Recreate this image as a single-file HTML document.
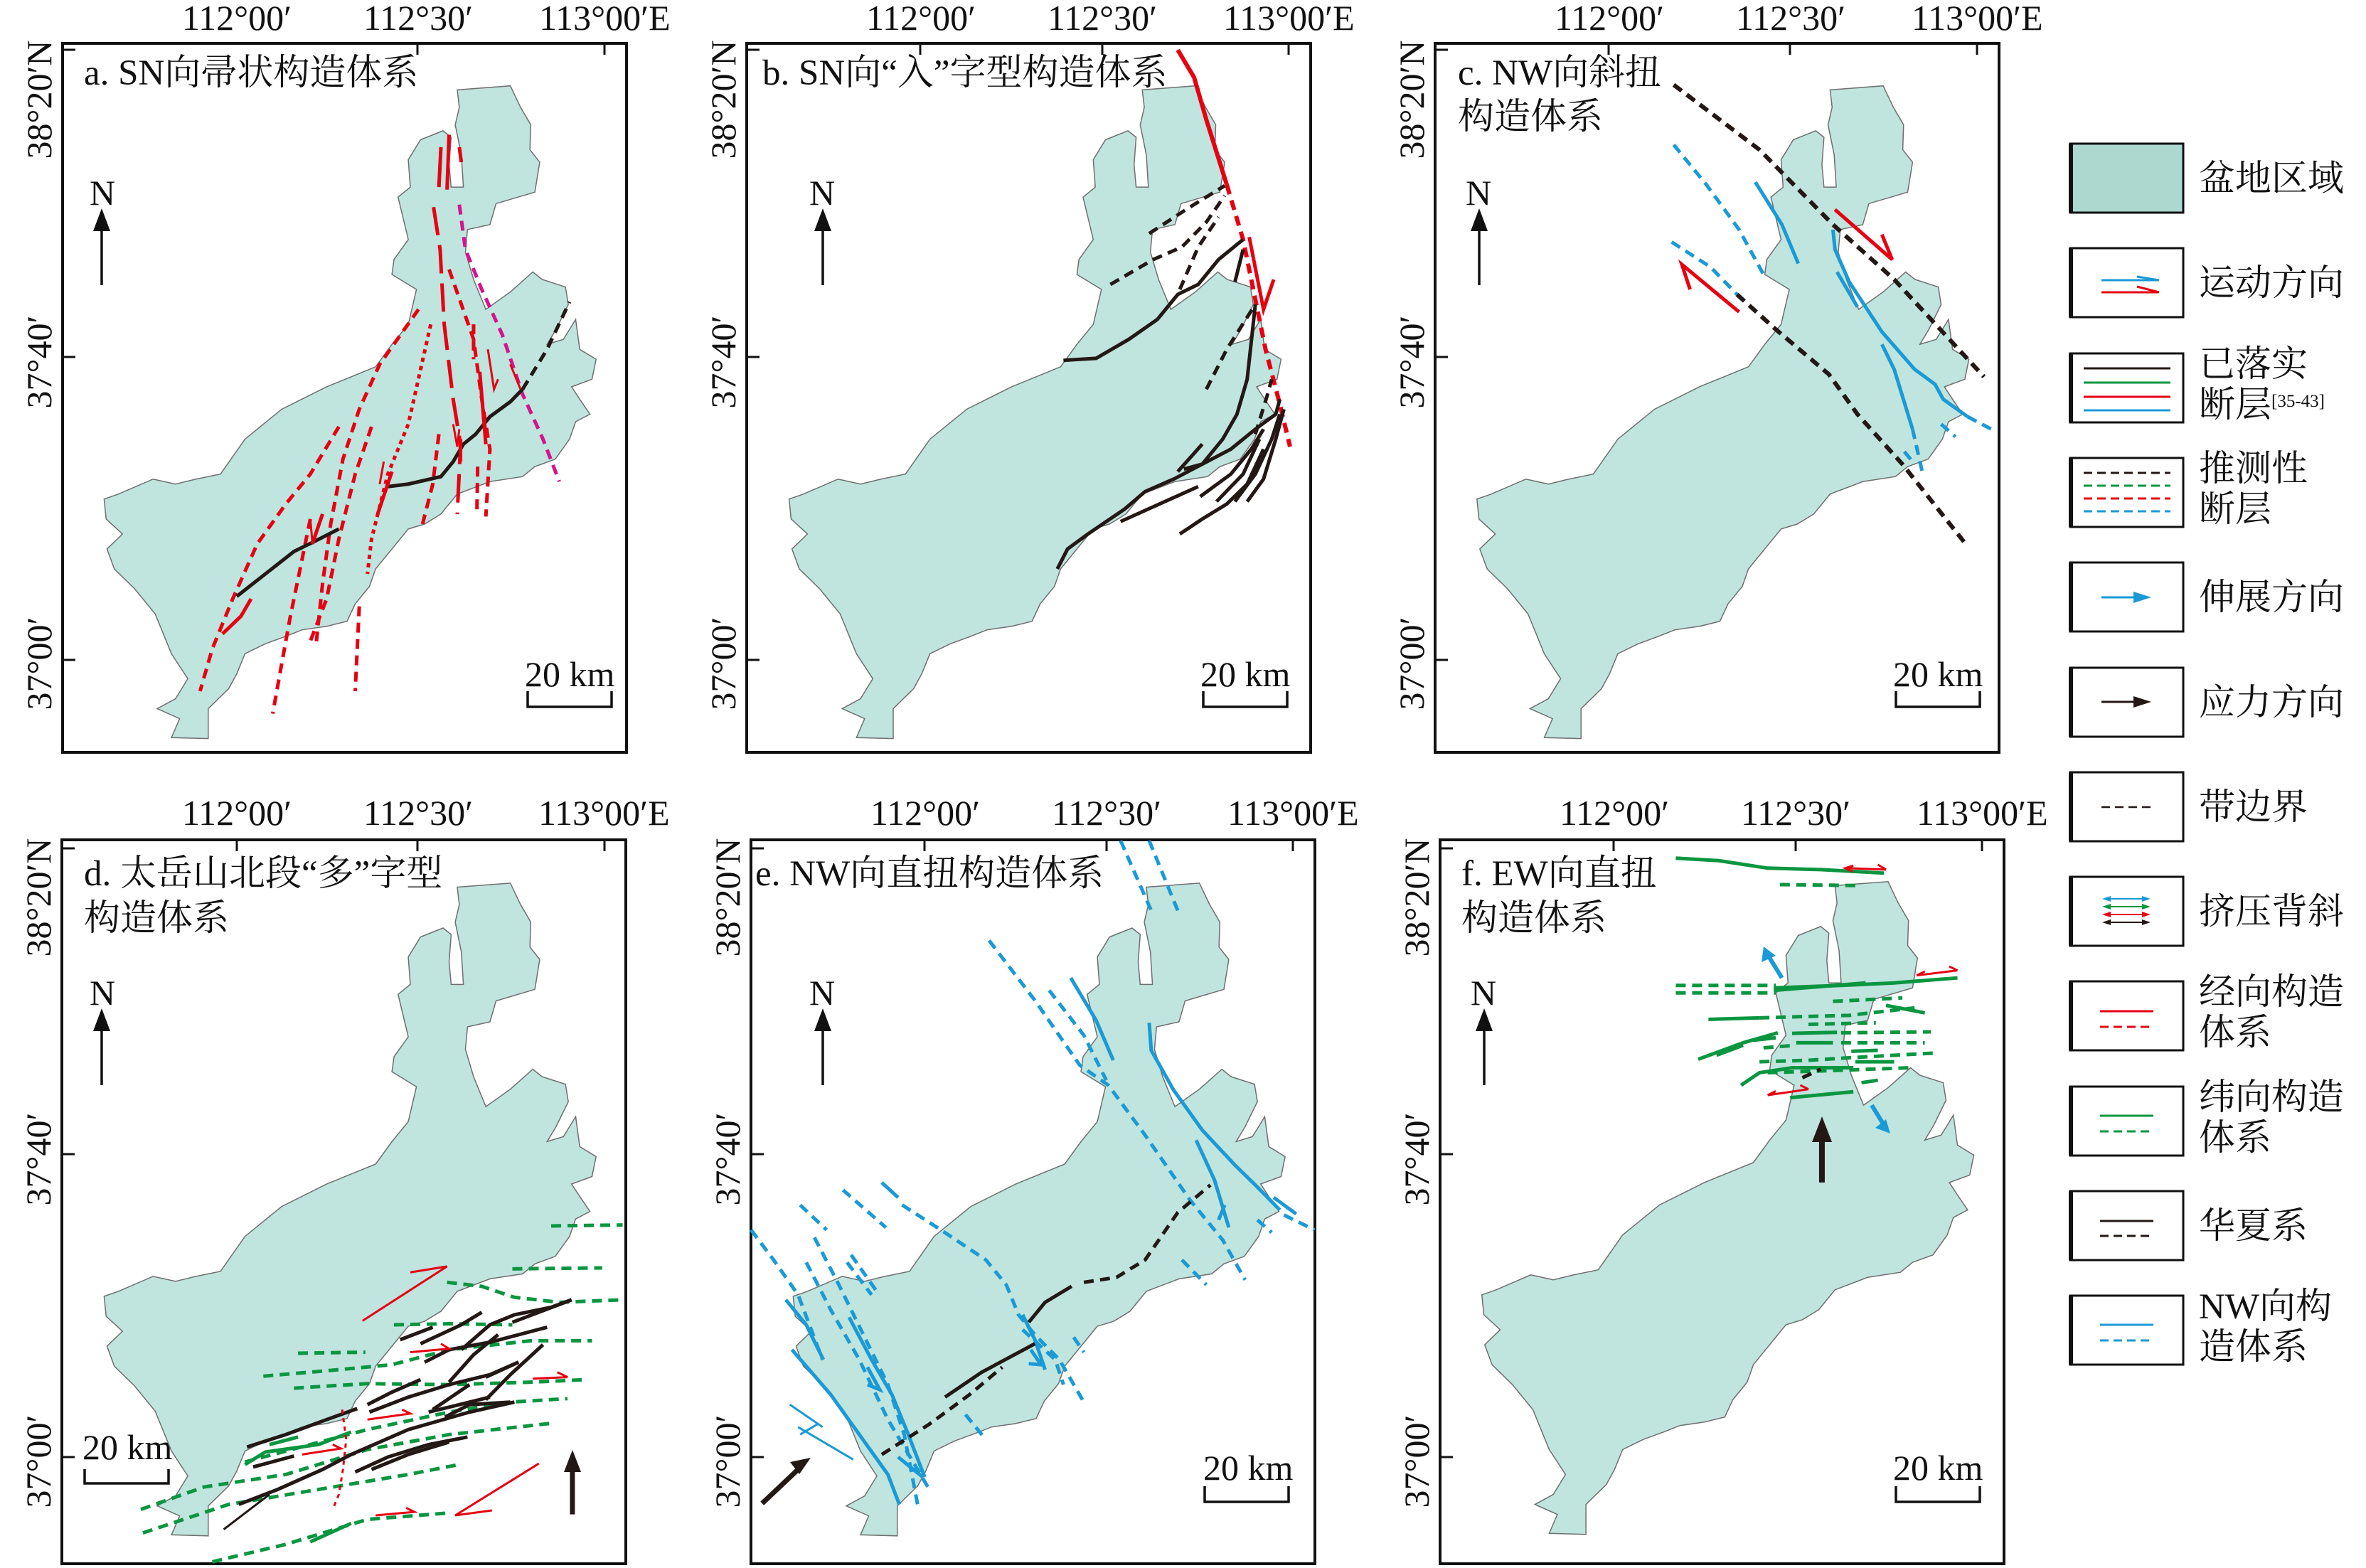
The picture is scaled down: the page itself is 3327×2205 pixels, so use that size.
<!DOCTYPE html>
<html><head><meta charset="utf-8"><style>
html,body{margin:0;padding:0;background:#fff}
svg{display:block}
text{font-family:"Liberation Serif","Noto Serif CJK SC","Noto Sans CJK SC",serif;fill:#111}
.f path,.f polyline{vector-effect:non-scaling-stroke;fill:none;stroke-linecap:butt}
.k{stroke:#231815;stroke-width:5}
.r{stroke:#e60012;stroke-width:5}
.g{stroke:#0a9640;stroke-width:5}
.b{stroke:#1a9ad6;stroke-width:5}
.m{stroke:#d4148c;stroke-width:5}
.d{stroke-dasharray:14 9}
.dt{stroke-dasharray:6 6}
.ld{stroke-dasharray:40 14}
.th{stroke-width:3}
</style></head><body>
<svg width="3327" height="2205" viewBox="0 0 3327 2205" xmlns="http://www.w3.org/2000/svg">
<defs>
<path id="basin" d="M1120,180 L1250,172 L1275,215 L1300,250 L1298,300 L1322,325 L1310,385 L1215,408 L1200,450 L1145,460 L1140,505 L1160,560 L1190,620 L1250,585 L1305,545 L1328,560 L1385,575 L1392,610 L1362,660 L1340,690 L1380,680 L1410,640 L1420,700 L1460,720 L1450,760 L1400,775 L1420,800 L1445,830 L1410,845 L1395,880 L1360,920 L1310,935 L1280,955 L1200,965 L1120,990 L1080,1030 L1040,1050 L1000,1060 L970,1090 L940,1120 L920,1140 L905,1175 L870,1210 L850,1245 L800,1255 L740,1262 L700,1275 L650,1290 L600,1310 L580,1350 L560,1380 L510,1420 L510,1480 L420,1478 L440,1440 L385,1420 L430,1400 L460,1360 L420,1310 L380,1230 L330,1180 L280,1140 L262,1100 L300,1070 L260,1040 L255,1000 L290,990 L375,960 L430,970 L480,960 L540,950 L600,880 L690,820 L800,775 L920,735 L960,690 L1000,650 L1020,580 L960,550 L965,520 L1000,480 L975,395 L1005,375 L1000,320 L1030,280 L1085,262 L1105,275 L1100,330 L1105,375 L1135,375 L1130,310 L1115,250 L1125,215 Z" fill="#c0e4de" stroke="#6f6f6f" stroke-width="1.5" vector-effect="non-scaling-stroke"/>
</defs>

<g fill="none" stroke="#111" stroke-width="4">
<rect x="88" y="61" width="793" height="997"/>
<rect x="1050" y="61" width="793" height="997"/>
<rect x="2018" y="61" width="793" height="997"/>
<rect x="87" y="1181" width="793" height="1018"/>
<rect x="1056" y="1181" width="793" height="1018"/>
<rect x="2025" y="1181" width="793" height="1018"/>
</g>
<g stroke="#111" stroke-width="3" fill="none">
<path d="M587,61v16 M850,61v16 M88,70h18 M88,502h18 M88,928h18"/>
<path d="M1294,61v16 M1550,61v16 M1812,61v16 M1050,70h18 M1050,502h18 M1050,928h18"/>
<path d="M2262,61v16 M2517,61v16 M2780,61v16 M2018,70h18 M2018,502h18 M2018,928h18"/>
<path d="M333,1181v16 M587,1181v16 M850,1181v16 M87,1193h18 M87,1623h18 M87,2049h18"/>
<path d="M1300,1181v16 M1556,1181v16 M1818,1181v16 M1056,1193h18 M1056,1623h18 M1056,2049h18"/>
<path d="M2269,1181v16 M2525,1181v16 M2787,1181v16 M2025,1193h18 M2025,1623h18 M2025,2049h18"/>
</g>
<g font-size="50">
<text x="333" y="42" text-anchor="middle">112°00′</text><text x="588" y="42" text-anchor="middle">112°30′</text><text x="758" y="42">113°00′E</text>
<text x="1295" y="42" text-anchor="middle">112°00′</text><text x="1550" y="42" text-anchor="middle">112°30′</text><text x="1720" y="42">113°00′E</text>
<text x="2263" y="42" text-anchor="middle">112°00′</text><text x="2518" y="42" text-anchor="middle">112°30′</text><text x="2688" y="42">113°00′E</text>
<text x="333" y="1160" text-anchor="middle">112°00′</text><text x="588" y="1160" text-anchor="middle">112°30′</text><text x="757" y="1160">113°00′E</text>
<text x="1301" y="1160" text-anchor="middle">112°00′</text><text x="1556" y="1160" text-anchor="middle">112°30′</text><text x="1726" y="1160">113°00′E</text>
<text x="2270" y="1160" text-anchor="middle">112°00′</text><text x="2525" y="1160" text-anchor="middle">112°30′</text><text x="2695" y="1160">113°00′E</text>
</g>
<g font-size="50" text-anchor="middle">
<text transform="translate(72,140) rotate(-90)">38°20′N</text><text transform="translate(72,509) rotate(-90)">37°40′</text><text transform="translate(72,933) rotate(-90)">37°00′</text>
<text transform="translate(1034,140) rotate(-90)">38°20′N</text><text transform="translate(1034,509) rotate(-90)">37°40′</text><text transform="translate(1034,933) rotate(-90)">37°00′</text>
<text transform="translate(2002,140) rotate(-90)">38°20′N</text><text transform="translate(2002,509) rotate(-90)">37°40′</text><text transform="translate(2002,933) rotate(-90)">37°00′</text>
<text transform="translate(71,1262) rotate(-90)">38°20′N</text><text transform="translate(71,1630) rotate(-90)">37°40′</text><text transform="translate(71,2055) rotate(-90)">37°00′</text>
<text transform="translate(1040,1262) rotate(-90)">38°20′N</text><text transform="translate(1040,1630) rotate(-90)">37°40′</text><text transform="translate(1040,2055) rotate(-90)">37°00′</text>
<text transform="translate(2009,1262) rotate(-90)">38°20′N</text><text transform="translate(2009,1630) rotate(-90)">37°40′</text><text transform="translate(2009,2055) rotate(-90)">37°00′</text>
</g>
<g font-size="51">
<text x="118" y="119">a. SN向帚状构造体系</text>
<text x="1072" y="119">b. SN向“入”字型构造体系</text>
<text x="2050" y="119">c. NW向斜扭</text><text x="2050" y="181">构造体系</text>
<text x="118" y="1245">d. 太岳山北段“多”字型</text><text x="118" y="1308">构造体系</text>
<text x="1062" y="1245">e. NW向直扭构造体系</text>
<text x="2055" y="1245">f. EW向直扭</text><text x="2055" y="1308">构造体系</text>
</g>
<g font-size="50">
<text x="126" y="288">N</text><text x="1138" y="288">N</text><text x="2061" y="288">N</text>
<text x="126" y="1413">N</text><text x="1138" y="1413">N</text><text x="2068" y="1413">N</text>
</g>
<g stroke="#111" stroke-width="3.5">
<path d="M143,401V310 M1157,401V310 M2080,401V310 M143,1526V1435 M1157,1526V1435 M2087,1526V1435"/>
</g>
<g fill="#111">
<path d="M143,293l-12,32h24z M1157,293l-12,32h24z M2080,293l-12,32h24z M143,1418l-12,32h24z M1157,1418l-12,32h24z M2087,1418l-12,32h24z"/>
</g>
<g font-size="50">
<text x="738" y="965">20 km</text><text x="1688" y="965">20 km</text><text x="2662" y="965">20 km</text>
<text x="116" y="2052">20 km</text><text x="1692" y="2081">20 km</text><text x="2662" y="2081">20 km</text>
</g>
<g fill="none" stroke="#111" stroke-width="3.5">
<path d="M742,972V994H860V972 M1692,972V994H1810V972 M2666,972V994H2784V972"/>
<path d="M119,2066V2086H237V2066 M1694,2090V2112H1812V2090 M2666,2090V2112H2784V2090"/>
</g>

<!-- Panel a -->
<g class="f" transform="translate(0,0) scale(0.5741,0.7018)">
<use href="#basin"/>
<path class="r ld" d="M1062,415 L1078,500 L1088,650 L1110,800 L1128,890 L1120,1030"/>
<path class="r d" d="M1100,540 L1160,680 L1180,800 L1200,900 L1190,1035"/>
<path class="r dt" d="M1055,650 L1000,850 L950,950 L910,1080 L900,1150"/>
<path class="r d" d="M1025,620 L930,730 L880,820 L840,920 L810,1050 L790,1170 L775,1285"/>
<path class="r d" d="M830,855 L760,950 L700,1010 L630,1090 L570,1200 L520,1300 L490,1385"/>
<path class="r d" d="M910,855 L870,950 L830,1080 L800,1200 L760,1285"/>
<path class="r d" d="M1075,870 L1060,970 L1035,1050"/>
<path class="r d" d="M880,1215 L870,1385"/>
<path class="r d" d="M760,1040 L740,1120 L710,1240 L690,1330 L668,1430"/>
<path class="r d" d="M1170,935 L1168,1030"/>
<path class="r d" d="M1160,650 L1160,720"/>
<path class="m d" d="M1125,410 L1140,500 L1180,580 L1230,670 L1280,790 L1330,880 L1370,965"/>
<path class="k" d="M580,1195 L650,1150 L720,1105 L770,1085 L830,1060"/>
<path class="k" d="M950,975 L1000,970 L1080,955 L1110,925 L1135,890 L1165,870 L1200,835 L1250,805 L1280,780"/>
<path class="k d" d="M1280,780 L1340,700 L1395,605"/>
<path class="r" d="M1080,295 L1075,375 M1100,270 L1095,380 M1125,295 L1130,325"/>
<path class="r" d="M545,1270 L590,1235 L615,1200 M765,1090 L790,1030 M925,1030 L960,945 M1128,880 L1128,925 M1175,745 L1190,890"/>
<path class="r th" d="M1110,850 L1120,895 L1125,860 M760,1040 L765,1085 M940,925 L930,970 M1195,700 L1210,780 L1220,760 M1250,730 L1275,780 M1185,820 L1190,860"/>
</g>

<!-- Panel b -->
<g class="f" transform="translate(950,0) scale(0.5741,0.7018)">
<use href="#basin" transform="translate(23,0)"/>
<path class="r" style="stroke-width:6" d="M1230,100 L1270,155 L1300,240 L1350,370"/>
<path class="r d" style="stroke-width:6" d="M1350,370 L1390,480 L1420,600 L1445,700 L1480,810 L1505,895"/>
<path class="r" d="M1405,475 L1440,620 L1465,560"/>
<path class="k d" d="M1160,468 L1250,420 L1345,372"/>
<path class="k d" d="M1065,570 L1170,520 L1240,495 L1300,445 L1345,392"/>
<path class="k d" d="M1235,580 L1280,495 L1330,435"/>
<path class="k d" d="M1300,780 L1350,700 L1420,610"/>
<path class="k d" d="M1420,870 L1450,790 L1460,760"/>
<path class="k" d="M950,722 L1030,718 L1110,680 L1180,640 L1230,590 L1280,570 L1330,520 L1390,480"/>
<path class="k" d="M1370,565 L1390,500"/>
<path class="k" d="M1230,945 L1290,890"/>
<path class="k" d="M1245,940 L1290,930 L1340,880 L1375,830 L1400,760 L1420,610"/>
<path class="k" d="M935,1140 L960,1100 L1010,1070 L1100,1020 L1150,985 L1220,960 L1290,930 L1360,900 L1420,860 L1470,830 L1480,800"/>
<path class="k" d="M1090,1045 L1280,975"/>
<path class="k" d="M1235,1070 L1290,1040 L1350,1010 L1400,970 L1440,900"/>
<path class="k" d="M1285,995 L1360,950 L1410,900 L1440,860"/>
<path class="k" d="M1325,1005 L1390,950 L1430,880"/>
<path class="k" d="M1370,1005 L1420,950 L1460,880 L1480,830"/>
<path class="k" d="M1400,1005 L1440,960 L1470,880 L1490,820"/>
</g>

<!-- Panel c -->
<g class="f" transform="translate(1900,0) scale(0.5741,0.7018)">
<use href="#basin" transform="translate(53,0)"/>
<path class="k d" style="stroke-width:6" d="M790,170 L1000,300 L1180,450 L1330,560 L1550,755"/>
<path class="k d" style="stroke-width:6" d="M945,590 L1040,660 L1170,750 L1240,830 L1350,930 L1510,1095"/>
<path class="b d" d="M790,290 L870,370 L950,460 L1010,550"/>
<path class="b d" d="M785,485 L880,535 L945,590"/>
<path class="b" d="M990,365 L1055,450 L1095,528"/>
<path class="b" d="M1180,460 L1185,500 L1220,565 L1300,665 L1380,740 L1430,770 L1450,800 L1510,835"/>
<path class="b d" d="M1510,835 L1568,860"/>
<path class="b" d="M1190,545 L1240,615"/>
<path class="b" d="M1300,690 L1330,740 L1375,860"/>
<path class="b d" d="M1375,860 L1400,950 M1355,905 L1380,930 M1445,850 L1480,875"/>
<path class="r" d="M1185,420 L1325,520 L1300,470"/>
<path class="r" d="M950,625 L810,530 L830,580"/>
</g>

<!-- Panel d -->
<g class="f" transform="translate(0,1105) scale(0.5741,0.7018)">
<use href="#basin" transform="translate(0,23)"/>
<g class="g d">
<path d="M1350,882 L1525,880"/><path d="M1255,968 L1475,966"/>
<path d="M1095,995 L1180,1003 L1260,1025 L1370,1035 L1525,1030"/>
<path d="M965,1080 L1100,1078 L1255,1080"/><path d="M730,1137 L895,1135"/>
<path d="M645,1183 L830,1170 L960,1160 L1100,1130 L1300,1112 L1450,1112"/>
<path d="M720,1207 L900,1198 L1100,1200 L1300,1195 L1435,1190"/>
<path d="M600,1355 L760,1320 L900,1290 L1100,1255 L1250,1235 L1390,1228"/>
<path d="M345,1450 L500,1405 L700,1380 L900,1330 L1100,1300 L1345,1278"/>
<path d="M350,1497 L560,1440 L780,1410 L1000,1380 L1125,1360"/>
<path d="M520,1555 L700,1520 L900,1470 L1100,1457"/>
</g>
<path class="g" d="M600,1360 L650,1335 L780,1320 L860,1295 M760,1515 L860,1478 M660,1320 L730,1305"/>
<g class="k">
<path d="M605,1325 L700,1300 L800,1270 L875,1248"/><path d="M620,1365 L720,1343"/>
<path d="M585,1440 L680,1410 L790,1370 L860,1340 L1000,1290 L1150,1255 L1260,1235"/>
<path d="M900,1240 L960,1215 L1030,1190"/><path d="M905,1255 L1000,1225 L1100,1200 L1200,1180 L1270,1155"/>
<path d="M870,1375 L950,1345 L1050,1320 L1145,1305"/><path d="M910,1370 L1000,1340 L1100,1315"/>
<path d="M1040,1155 L1100,1130 L1200,1115 L1340,1085"/><path d="M980,1110 L1060,1085"/>
<path d="M1030,1118 L1130,1080 L1180,1055"/><path d="M1100,1195 L1160,1140 L1220,1100"/>
<path d="M1130,1130 L1200,1080 L1260,1060 L1350,1045 L1400,1030"/><path d="M1255,1075 L1400,1030"/>
<path d="M1190,1230 L1250,1180 L1330,1120"/><path d="M1090,1265 L1150,1240 L1250,1235"/>
<path d="M1060,1250 L1150,1200"/><path d="M1190,1185 L1270,1155"/><path d="M1050,1255 L1200,1225"/>
</g>
<path class="r th" d="M888,1072 L1095,963 L1005,975 M1320,1358 L1115,1462 L1205,1452 M1305,1188 L1390,1185 L1365,1175 M1005,1135 L1100,1128 L1080,1118 M900,1270 L1005,1258 L985,1250 M740,1340 L835,1328 L815,1320 M920,1462 L1015,1455 L995,1447"/>
<path class="r th dt" d="M838,1250 L848,1310 L840,1370 L830,1420 L815,1450"/>
<path class="k th" d="M548,1490 L660,1420"/>
<path class="k" style="stroke-width:7" d="M1402,1460 L1402,1370"/>
</g>
<polygon points="805,2039 793,2070 817,2070" fill="#231815"/>

<!-- Panel e -->
<g class="f" transform="translate(950,1105) scale(0.5741,0.7018)">
<use href="#basin" transform="translate(33,23)"/>
<g class="b d">
<path d="M1090,110 L1165,250"/><path d="M1160,110 L1230,250"/>
<path d="M768,310 L880,430 L990,560 L1060,600 L1150,700 L1260,830 L1340,910 L1395,990"/>
<path d="M915,410 L1000,500 L1055,590"/><path d="M185,890 L240,950 L300,1020 L360,1150"/>
<path d="M305,840 L370,890"/><path d="M410,810 L515,885"/>
<path d="M555,840 L650,890 L760,950 L810,1000 L840,1060 L880,1100 L940,1150 L1000,1235"/>
<path d="M340,905 L400,1000 L460,1100 L520,1200 L560,1300 L595,1450"/>
<path d="M320,955 L380,1050 L450,1150 L520,1270 L600,1380 L625,1415"/>
<path d="M430,940 L490,1010"/><path d="M420,955 L480,1020"/><path d="M1240,950 L1300,1000"/>
<path d="M975,1105 L1000,1135"/><path d="M1425,870 L1460,895"/><path d="M1490,860 L1565,890"/>
<path d="M710,1260 L755,1305"/><path d="M850,1090 L930,1150 L950,1200"/>
</g>
<g class="b">
<path d="M968,385 L1030,470 L1072,550"/>
<path d="M1160,475 L1165,530 L1220,610 L1290,690 L1370,760 L1420,800 L1480,850"/>
<path d="M1275,710 L1320,790 L1355,885"/><path d="M505,795 L545,825"/>
<path d="M270,1030 L320,1080 L362,1150"/>
<path d="M285,1130 L380,1220 L450,1300 L520,1380 L548,1440"/>
<path d="M425,1065 L480,1150 L530,1220 L570,1300 L610,1385"/>
<path d="M545,1345 L605,1385"/><path d="M850,1060 L880,1110 L905,1170"/>
<path d="M470,1165 L500,1210 L470,1200 M870,1130 L895,1160 L865,1158 M1330,870 L1345,840 M1465,825 L1520,858"/>
</g>
<path class="b th" d="M280,1240 L360,1285 M300,1285 L435,1350 M305,1300 L350,1278"/>
<path class="k" d="M660,1225 L750,1175 L880,1118 M865,1075 L905,1035 L970,1003"/>
<path class="k d" d="M505,1340 L620,1280 L720,1220 L800,1165 M1000,995 L1080,985 L1150,950 L1230,855 L1310,800"/>
<path class="k" style="stroke-width:7" d="M212,1438 L300,1370"/>
</g>
<polygon points="1140,2050 1111,2056 1124,2073" fill="#231815"/>

<!-- Panel f -->
<g class="f" transform="translate(1900,1105) scale(0.5741,0.7018)">
<use href="#basin" transform="translate(65,20)"/>
<g class="g">
<path d="M795,145 L900,150 L1020,165 L1150,168 L1305,175"/>
<path d="M1035,410 L1260,395"/><path d="M1035,405 L1200,400 L1330,395 L1485,385"/>
<path d="M1310,440 L1405,455"/><path d="M875,468 L1000,465"/>
<path d="M850,548 L960,515 L1045,495"/><path d="M895,540 L960,520"/><path d="M985,510 L1040,505"/>
<path d="M1080,496 L1190,494"/><path d="M1090,515 L1180,515"/><path d="M1225,532 L1290,530"/>
<path d="M1235,553 L1330,553"/><path d="M955,600 L1000,575 L1080,565 L1230,565"/>
<path d="M1075,625 L1230,613"/><path d="M1250,595 L1290,590"/>
</g>
<g class="g d">
<path d="M1050,198 L1250,200"/><path d="M795,400 L1040,400"/><path d="M795,415 L1040,415"/>
<path d="M1180,432 L1350,425"/><path d="M1000,465 L1220,460 L1380,445"/><path d="M1120,478 L1285,475"/>
<path d="M1200,495 L1420,493"/><path d="M1200,515 L1405,515"/><path d="M1010,525 L1090,520"/>
<path d="M1000,553 L1120,550 L1220,545 L1440,535"/><path d="M1020,575 L1200,570 L1370,565"/>
</g>
<path class="r th" d="M1210,165 L1310,168 M1385,380 L1485,370 M1020,620 L1120,608 M1230,160 L1210,165 L1228,172 M1290,158 L1310,168 M1405,372 L1385,380 M1465,362 L1485,370 M1040,612 L1020,620 M1100,600 L1120,608"/>
<path class="k d" d="M1105,585 L1150,568"/>
<path class="b" style="stroke-width:6" d="M1055,385 L1025,345 M1275,640 L1305,680"/>
<path class="k" style="stroke-width:8" d="M1153,795 L1153,700"/>
</g>
<polygon points="2562,1570 2548,1606 2576,1606" fill="#231815"/>
<polygon points="2480,1331 2477,1353 2497,1344" fill="#1a9ad6"/>
<polygon points="2658,1594 2652,1574 2637,1586" fill="#1a9ad6"/>

<!-- Legend -->
<g fill="none" stroke="#111" stroke-width="3">
<rect x="2911" y="202" width="159" height="97" fill="#acd8d0"/>
<rect x="2911" y="349" width="159" height="97"/>
<rect x="2911" y="497" width="159" height="97"/>
<rect x="2911" y="644" width="159" height="97"/>
<rect x="2911" y="791" width="159" height="97"/>
<rect x="2911" y="939" width="159" height="97"/>
<rect x="2911" y="1086" width="159" height="97"/>
<rect x="2911" y="1233" width="159" height="97"/>
<rect x="2911" y="1380" width="159" height="97"/>
<rect x="2911" y="1528" width="159" height="97"/>
<rect x="2911" y="1675" width="159" height="97"/>
<rect x="2911" y="1822" width="159" height="97"/>
</g>
<g stroke="#111" stroke-width="6"><path d="M2912,202V299 M2912,349V446 M2912,497V594 M2912,644V741 M2912,791V888 M2912,939V1036 M2912,1086V1183 M2912,1233V1330 M2912,1380V1477 M2912,1528V1625 M2912,1675V1772 M2912,1822V1919"/></g>
<g fill="none" stroke-width="3">
<path stroke="#1a9ad6" d="M2955,394H3035 M3005,389L3036,394"/>
<path stroke="#e60012" d="M2955,411H3035 M3005,403L3036,411"/>
<path stroke="#231815" d="M2930,518H3052"/><path stroke="#0a9640" d="M2930,538H3052"/>
<path stroke="#e60012" d="M2930,558H3052"/><path stroke="#1a9ad6" d="M2930,577H3052"/>
<g stroke-dasharray="12 7">
<path stroke="#231815" d="M2930,665H3052"/><path stroke="#0a9640" d="M2930,683H3052"/>
<path stroke="#e60012" d="M2930,701H3052"/><path stroke="#1a9ad6" d="M2930,719H3052"/>
<path stroke="#231815" stroke-width="2.5" d="M2955,1135H3027"/>
<path stroke="#e60012" d="M2953,1444H3028"/><path stroke="#0a9640" d="M2953,1591H3028"/>
<path stroke="#231815" d="M2953,1738H3028"/><path stroke="#1a9ad6" d="M2953,1885H3028"/>
</g>
<path stroke="#e60012" d="M2953,1422H3028"/><path stroke="#0a9640" d="M2953,1569H3028"/>
<path stroke="#231815" d="M2953,1717H3028"/><path stroke="#1a9ad6" d="M2953,1863H3028"/>
<path stroke="#1a9ad6" d="M2955,840H3010"/><path stroke="#231815" d="M2955,987H3010"/>
<path stroke="#1a9ad6" stroke-width="2" d="M2960,1264H3020"/><path stroke="#0a9640" stroke-width="2" d="M2960,1275H3020"/>
<path stroke="#e60012" stroke-width="2" d="M2960,1286H3020"/><path stroke="#231815" stroke-width="2" d="M2960,1297H3020"/>
</g>
<g fill="#1a9ad6"><polygon points="3025,840 3000,832 3000,848"/><polygon points="2956,1264 2968,1260 2968,1268"/><polygon points="3024,1264 3012,1260 3012,1268"/></g>
<polygon points="3025,987 3000,979 3000,995" fill="#231815"/>
<g fill="#0a9640"><polygon points="2956,1275 2968,1271 2968,1279"/><polygon points="3024,1275 3012,1271 3012,1279"/></g>
<g fill="#e60012"><polygon points="2956,1286 2968,1282 2968,1290"/><polygon points="3024,1286 3012,1282 3012,1290"/></g>
<g fill="#231815"><polygon points="2956,1297 2968,1293 2968,1301"/><polygon points="3024,1297 3012,1293 3012,1301"/></g>
<g font-size="51" font-family="'Liberation Serif','Noto Serif CJK SC',serif">
<text x="3092" y="268">盆地区域</text>
<text x="3092" y="415">运动方向</text>
<text x="3092" y="529">已落实</text><text x="3092" y="586">断层<tspan font-size="25" dy="-14">[35-43]</tspan></text>
<text x="3092" y="676">推测性</text><text x="3092" y="733">断层</text>
<text x="3092" y="857">伸展方向</text>
<text x="3092" y="1005">应力方向</text>
<text x="3092" y="1152">带边界</text>
<text x="3092" y="1299">挤压背斜</text>
<text x="3092" y="1412">经向构造</text><text x="3092" y="1469">体系</text>
<text x="3092" y="1560">纬向构造</text><text x="3092" y="1617">体系</text>
<text x="3092" y="1741">华夏系</text>
<text x="3092" y="1854">NW向构</text><text x="3092" y="1911">造体系</text>
</g>
</svg>
</body></html>
